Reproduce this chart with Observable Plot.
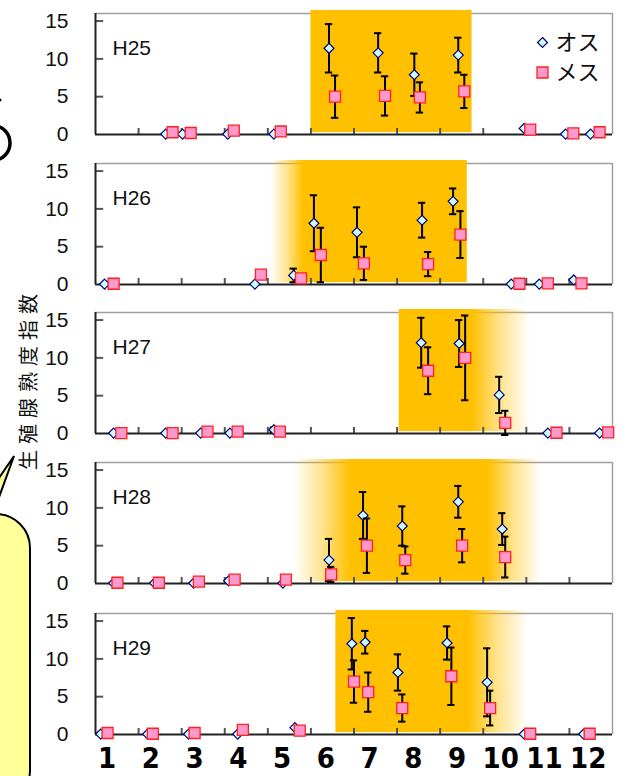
<!DOCTYPE html>
<html><head><meta charset="utf-8">
<script src="https://cdn.jsdelivr.net/npm/d3@7"></script>
<script src="https://cdn.jsdelivr.net/npm/@observablehq/plot@0.6"></script>
<style>
body{margin:0;background:#fff;}
#wrap{position:relative;width:628px;height:776px;overflow:hidden;background:#fff;}
#wrap svg{overflow:visible;}
.panel{position:absolute;left:0;}
</style></head><body><div id="wrap"></div>
<script>
// ---- data ----
const years = ["H25", "H26", "H27", "H28", "H29"];
const monthLabels = ["1","2","3","4","5","6","7","8","9","10","11","12"];
const yTicks = [0, 5, 10, 15];
const monthBounds = [1,2,3,4,5,6,7,8,9,10,11];
const legendLabels = ["オス", "メス"];
const yTitle = "生殖腺熟度指数";

// rows: [sampling position in months, GSI mean, SD]
const h25Male = [[1.63,0.05,0],[2.02,0.05,0],[3.07,0.05,0],[4.14,0.05,0],[5.42,11.4,3.2],[6.56,10.8,2.6],[7.40,7.9,2.8],[8.42,10.5,2.3],[9.95,0.8,0],[10.91,0.05,0],[11.49,0.05,0]];
const h25Female = [[1.79,0.3,0],[2.21,0.2,0],[3.21,0.5,0],[4.30,0.4,0],[5.56,5.0,2.8],[6.72,5.1,2.6],[7.53,4.9,2.0],[8.56,5.7,2.2],[10.09,0.65,0],[11.09,0.15,0],[11.70,0.3,0]];
const h26Male = [[0.21,0.05,0],[3.70,0.05,0],[4.60,1.2,0.9],[5.07,8.1,3.7],[6.07,6.9,3.3],[7.58,8.5,2.3],[8.30,11.0,1.7],[9.65,0.05,0],[10.30,0.05,0],[11.10,0.6,0]];
const h26Female = [[0.42,0.1,0],[3.84,1.3,0],[4.77,0.8,0],[5.23,3.9,3.6],[6.23,2.8,2.2],[7.72,2.7,1.6],[8.47,6.6,3.1],[9.84,0.1,0],[10.50,0.15,0],[11.28,0.15,0]];
const h27Male = [[0.42,0.05,0],[1.63,0.05,0],[2.44,0.05,0],[3.12,0.05,0],[4.14,0.5,0.3],[7.56,12.0,3.3],[8.44,11.9,3.1],[9.37,5.1,2.4],[10.50,0.05,0],[11.70,0.05,0]];
const h27Female = [[0.60,0.05,0],[1.79,0.05,0],[2.60,0.25,0],[3.30,0.25,0],[4.28,0.25,0],[7.72,8.3,3.1],[8.58,10.0,5.6],[9.51,1.4,1.6],[10.70,0.1,0],[11.90,0.15,0]];
const h28Male = [[0.42,0.05,0],[1.37,0.05,0],[2.28,0.05,0],[3.09,0.35,0],[4.35,0.05,0],[5.42,3.1,2.8],[6.21,9.0,3.1],[7.12,7.6,2.6],[8.42,10.8,2.1],[9.44,7.2,2.1]];
const h28Female = [[0.51,0.1,0],[1.47,0.1,0],[2.40,0.25,0],[3.23,0.5,0],[4.42,0.5,0],[5.47,1.2,1.0],[6.30,5.0,3.6],[7.19,3.1,1.8],[8.51,5.0,2.2],[9.51,3.5,2.7]];
const h29Male = [[0.12,0.05,0],[1.21,0.05,0],[2.16,0.05,0],[3.30,0.05,0],[4.63,0.9,0],[5.95,12.0,3.4],[6.26,12.2,1.5],[7.02,8.2,2.4],[8.16,12.1,2.2],[9.09,6.9,4.5],[9.95,0.05,0],[11.33,0.05,0]];
const h29Female = [[0.28,0.2,0],[1.33,0.1,0],[2.30,0.2,0],[3.42,0.6,0],[4.74,0.5,0],[6.00,7.0,2.8],[6.33,5.6,2.6],[7.12,3.5,1.8],[8.26,7.7,3.8],[9.16,3.5,2.3],[10.09,0.1,0],[11.47,0.1,0]];

// spawning season shading: [fade start, solid start, solid end, fade end] (months)
const h25Season = [5.0, 5.0, 8.74, 8.74];
const h26Season = [4.07, 4.81, 8.63, 8.63];
const h27Season = [7.05, 7.05, 8.74, 10.1];
const h28Season = [4.6, 5.93, 9.12, 10.35];
const h29Season = [5.58, 5.58, 8.65, 10.05];

const maleSets = [h25Male, h26Male, h27Male, h28Male, h29Male];
const femaleSets = [h25Female, h26Female, h27Female, h28Female, h29Female];
const seasonSets = [h25Season, h26Season, h27Season, h28Season, h29Season];

// ---- style ----
const ORANGE = "#FFC000";
const MALE_FILL = "#CCFFFF", MALE_STROKE = "#000080";
const FEM_FILL = "#FF99CC", FEM_STROKE = "#FF2020";
const FONT = "'Liberation Sans', Arial, sans-serif";
const JFONT = "'Noto Sans CJK JP', sans-serif";
const frameTops = [13, 163, 312, 462, 613];
const PLOT_H = 121, MT = 10;

function gradDefs() {
  const defs = document.createElementNS("http://www.w3.org/2000/svg", "defs");
  defs.innerHTML =
    `<linearGradient id="fadeIn" x1="0" x2="1" y1="0" y2="0">
       <stop offset="0" stop-color="${ORANGE}" stop-opacity="0"/>
       <stop offset="0.5" stop-color="${ORANGE}" stop-opacity="0.45"/>
       <stop offset="0.97" stop-color="${ORANGE}" stop-opacity="1"/>
       <stop offset="1" stop-color="${ORANGE}" stop-opacity="1"/></linearGradient>
     <linearGradient id="fadeOut" x1="0" x2="1" y1="0" y2="0">
       <stop offset="0" stop-color="${ORANGE}" stop-opacity="1"/>
       <stop offset="0.03" stop-color="${ORANGE}" stop-opacity="1"/>
       <stop offset="0.5" stop-color="${ORANGE}" stop-opacity="0.45"/>
       <stop offset="1" stop-color="${ORANGE}" stop-opacity="0"/></linearGradient>`;
  return defs;
}

function errMarks(rows) {
  const e = rows.filter(d => d.e > 0);
  const cap = 0.085;
  return [
    Plot.ruleX(e, {x: "x", y1: d => d.y - d.e, y2: d => d.y + d.e, stroke: "black", strokeWidth: 2}),
    Plot.ruleY(e, {y: d => d.y + d.e, x1: d => d.x - cap, x2: d => d.x + cap, stroke: "black", strokeWidth: 2}),
    Plot.ruleY(e, {y: d => d.y - d.e, x1: d => d.x - cap, x2: d => d.x + cap, stroke: "black", strokeWidth: 2})
  ];
}

const wrap = document.getElementById("wrap");

// decorations + y title (plain svg)
const deco = d3.select(wrap).append("svg")
  .attr("width", 628).attr("height", 776)
  .style("position", "absolute").style("left", 0).style("top", 0);
deco.append("path").attr("d", "M -6 126 A 16 17 0 0 1 -6 160")
  .attr("fill", "none").attr("stroke", "black").attr("stroke-width", 3.5);
deco.append("circle").attr("cx", 0).attr("cy", 100).attr("r", 1.5).attr("fill", "black");
deco.append("path")
  .attr("d", "M -40 535 L 14 456 L -10 522 Z")
  .attr("fill", "#FFFF99").attr("stroke", "black").attr("stroke-width", 2);
deco.append("rect").attr("x", -70).attr("y", 514).attr("width", 100).attr("height", 290)
  .attr("rx", 34).attr("fill", "#FFFF99").attr("stroke", "black").attr("stroke-width", 2);
deco.append("text")
  .attr("transform", "translate(27,379) rotate(-90)")
  .attr("text-anchor", "middle").attr("dominant-baseline", "central")
  .attr("font-family", JFONT).attr("font-size", 20).attr("letter-spacing", 6)
  .attr("fill", "#111").text(yTitle);

years.forEach((name, k) => {
  const M = maleSets[k].map(([x, y, e]) => ({x, y, e}));
  const F = femaleSets[k].map(([x, y, e]) => ({x, y, e}));
  const s = seasonSets[k];
  const last = k === years.length - 1;
  const MB = last ? 45 : 15;
  const yTop = 16.4, yBot = 0.25;
  const marks = [
    gradDefs,
    Plot.ruleY([16], {stroke: "#a0a0a0", strokeWidth: 1.5}),
    Plot.ruleX([12], {stroke: "#a0a0a0", strokeWidth: 1.5}),
    s[1] > s[0] ? Plot.rect([s], {x1: d => d[0], x2: d => d[1], y1: yBot, y2: yTop, insetRight: -2, fill: "url(#fadeIn)"}) : null,
    s[3] > s[2] ? Plot.rect([s], {x1: d => d[2], x2: d => d[3], y1: yBot, y2: yTop, insetLeft: -2, fill: "url(#fadeOut)"}) : null,
    Plot.rect([s], {x1: d => d[1], x2: d => d[2], y1: yBot, y2: yTop, fill: ORANGE}),
    Plot.ruleX(monthBounds, {y1: 0, y2: 0.8, stroke: "#555", strokeWidth: 2}),
    Plot.ruleY([5, 10, 15], {x1: 0, x2: 0.19, stroke: "#555", strokeWidth: 2}),
    Plot.ruleY([0], {stroke: "#222", strokeWidth: 2}),
    Plot.ruleX([0], {y1: 0, y2: 16, stroke: "#222", strokeWidth: 2}),
    Plot.text(yTicks, {x: 0, y: d => d, text: d => String(d), dx: -27, textAnchor: "end", fontSize: 21, fontFamily: FONT, fill: "#111"}),
    Plot.text([name], {text: d => d, frameAnchor: "top-left", dx: 17, dy: 35, lineAnchor: "middle", textAnchor: "start", fontSize: 21, fontFamily: FONT, fill: "#111"}),
    ...errMarks(M),
    Plot.dot(M, {x: "x", y: "y", symbol: "diamond2", r: 4.5, fill: MALE_FILL, stroke: MALE_STROKE, strokeWidth: 1.2}),
    ...errMarks(F),
    Plot.dot(F, {x: "x", y: "y", symbol: "square", r: 6.2, fill: FEM_FILL, stroke: FEM_STROKE, strokeWidth: 1.3})
  ];
  if (k === 0) {
    marks.push(
      Plot.dot([legendLabels[0]], {frameAnchor: "top-right", dx: -70, dy: 29, symbol: "diamond2", r: 4.5, fill: MALE_FILL, stroke: MALE_STROKE, strokeWidth: 1.2}),
      Plot.text([legendLabels[0]], {text: d => d, frameAnchor: "top-right", dx: -57, dy: 29, textAnchor: "start", lineAnchor: "middle", fontSize: 22, fontFamily: JFONT, fill: "#111"}),
      Plot.dot([legendLabels[1]], {frameAnchor: "top-right", dx: -70, dy: 59, symbol: "square", r: 6.2, fill: FEM_FILL, stroke: FEM_STROKE, strokeWidth: 1.3}),
      Plot.text([legendLabels[1]], {text: d => d, frameAnchor: "top-right", dx: -57, dy: 59, textAnchor: "start", lineAnchor: "middle", fontSize: 22, fontFamily: JFONT, fill: "#111"})
    );
  }
  if (last) {
    marks.push(Plot.text(monthLabels, {
      x: (d, i) => i * 1.015 + 0.27, y: 0, dy: 24, text: d => d,
      lineAnchor: "middle", fontSize: 29, fontWeight: "bold",
      fontFamily: "'Liberation Sans Narrow', 'DejaVu Sans Condensed', sans-serif", fill: "#000"
    }));
  }
  const chart = Plot.plot({
    width: 628,
    height: MT + PLOT_H + MB,
    marginTop: MT, marginBottom: MB, marginLeft: 95, marginRight: 16,
    x: {domain: [0, 12], axis: null},
    y: {domain: [0, 16], axis: null},
    style: {background: "transparent", fontFamily: FONT, overflow: "visible"},
    marks
  });
  chart.classList.add("panel");
  chart.style.top = (frameTops[k] - MT) + "px";
  wrap.appendChild(chart);
});
</script></body></html>
